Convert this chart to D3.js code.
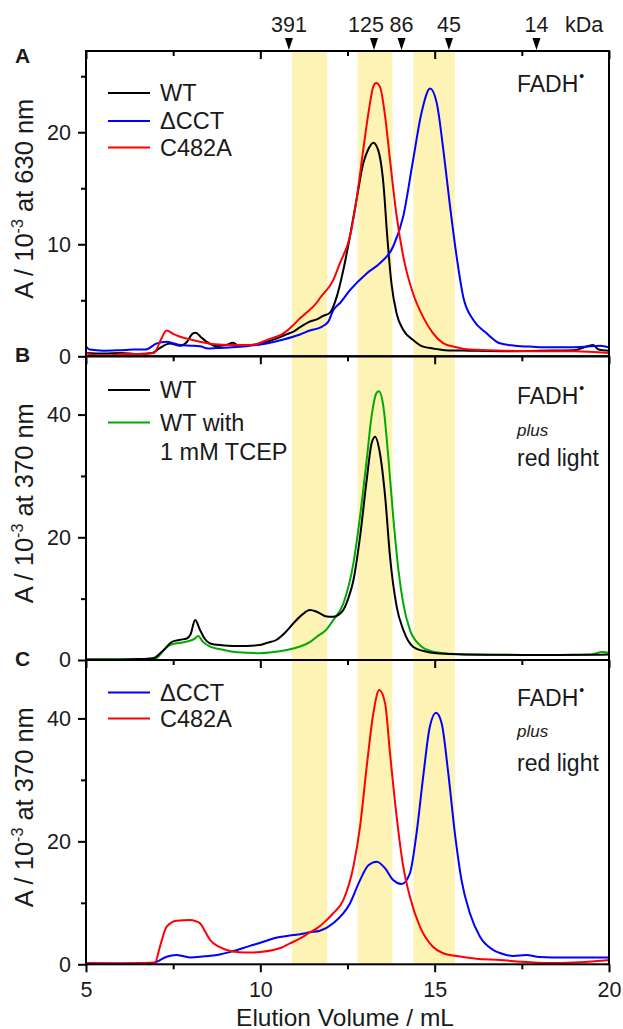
<!DOCTYPE html>
<html>
<head>
<meta charset="utf-8">
<script src="https://cdn.jsdelivr.net/npm/d3@7"></script>
<style>
  body { margin: 0; background: #fff; }
  svg text { font-family: "Liberation Sans", Arial, sans-serif; fill: #1a1a1a; }
</style>
</head>
<body>
<div id="chart"></div>
<script>
// elution volume (mL) / absorbance (x10^-3) pairs

// panel A, 630 nm
var aWT = [[5.0,0.3],[5.5,0.25],[6.0,0.3],[6.5,0.2],[6.9,0.3],[7.1,0.7],[7.4,1.15],[7.7,0.95],[7.9,1.3],[8.05,2.0],[8.15,2.1],[8.3,1.7],[8.46,1.3],[8.74,0.9],[9.0,1.0],[9.22,1.2],[9.4,0.9],[9.7,1.0],[9.99,1.1],[10.2,1.3],[10.48,1.6],[10.7,1.9],[10.95,2.2],[11.14,2.6],[11.42,3.1],[11.62,3.3],[11.8,3.6],[12.0,3.9],[12.19,5.3],[12.38,7.7],[12.57,10.7],[12.76,14.0],[12.95,17.2],[13.1,18.5],[13.24,19.07],[13.38,18.4],[13.53,15.4],[13.64,10.7],[13.76,6.5],[13.91,3.8],[14.1,2.35],[14.38,1.46],[14.67,0.86],[14.95,0.7],[15.3,0.55],[16.0,0.5],[17.0,0.45],[18.0,0.5],[19.0,0.55],[19.55,1.0],[19.7,0.6],[20.0,0.5]];
var aDCCT = [[5.0,0.9],[5.1,0.6],[5.5,0.5],[6.0,0.55],[6.35,0.6],[6.7,0.6],[7.03,1.15],[7.31,1.3],[7.7,1.0],[8.0,0.95],[8.27,0.9],[8.5,0.7],[8.74,0.75],[9.2,0.8],[9.6,0.9],[10.18,1.15],[10.66,1.5],[11.14,1.95],[11.42,2.3],[11.71,2.55],[11.95,3.1],[12.09,4.1],[12.3,4.8],[12.57,5.9],[13.05,7.4],[13.43,8.3],[13.81,9.8],[14.1,12.5],[14.38,17.5],[14.62,21.7],[14.87,23.9],[15.06,22.6],[15.25,18.4],[15.44,13.4],[15.63,8.9],[15.82,5.3],[16.11,3.24],[16.49,2.05],[16.87,1.16],[17.3,0.95],[17.83,0.85],[18.3,0.8],[18.79,0.8],[19.3,0.85],[19.75,0.95],[20.0,0.8]];
var aC482A = [[5.0,0.3],[5.3,0.1],[5.7,0.1],[6.0,0.2],[6.5,0.2],[6.95,0.3],[7.15,1.5],[7.31,2.3],[7.5,2.0],[7.7,1.75],[8.0,1.5],[8.27,1.3],[8.6,1.1],[9.22,1.0],[9.6,1.0],[9.9,1.1],[10.18,1.45],[10.66,2.05],[10.95,2.8],[11.14,3.4],[11.33,3.9],[11.62,4.8],[11.71,5.2],[12.09,6.8],[12.28,8.3],[12.57,10.7],[12.76,14.0],[12.95,18.4],[13.1,21.7],[13.24,24.07],[13.32,24.4],[13.43,24.07],[13.58,21.4],[13.72,17.5],[13.91,12.5],[14.1,8.9],[14.38,5.6],[14.67,3.5],[14.95,2.06],[15.24,1.17],[15.53,0.87],[16.0,0.6],[17.0,0.5],[18.0,0.45],[19.0,0.45],[20.0,0.3]];

// panel B, 370 nm
var bWT = [[5.0,0.1],[6.0,0.1],[6.5,0.15],[6.93,0.3],[7.22,1.6],[7.48,3.0],[7.7,3.3],[7.89,3.5],[8.0,4.2],[8.13,6.5],[8.27,4.9],[8.4,3.5],[8.56,2.7],[8.9,2.4],[9.22,2.3],[9.6,2.3],[9.99,2.45],[10.2,2.8],[10.47,3.3],[10.7,4.4],[10.95,6.0],[11.2,7.4],[11.42,8.15],[11.6,7.9],[11.71,7.6],[11.9,7.1],[12.09,7.06],[12.25,7.4],[12.38,8.15],[12.52,10.0],[12.67,13.0],[12.86,20.1],[13.05,29.3],[13.19,35.3],[13.29,36.4],[13.43,33.7],[13.58,26.6],[13.72,16.8],[13.91,8.7],[14.1,4.9],[14.38,2.17],[14.77,1.35],[15.3,1.0],[15.9,0.9],[17.0,0.85],[18.0,0.8],[19.0,0.85],[19.75,0.87],[20.0,0.9]];
var bTCEP = [[5.0,0.1],[6.0,0.1],[6.5,0.1],[7.0,0.27],[7.2,1.4],[7.41,2.45],[7.7,2.8],[7.89,3.0],[8.1,3.4],[8.22,3.9],[8.35,3.0],[8.56,2.17],[8.9,1.7],[9.22,1.35],[9.6,1.2],[9.99,1.1],[10.4,1.3],[10.76,1.63],[11.14,2.2],[11.42,2.9],[11.62,3.8],[11.9,5.0],[12.09,6.5],[12.38,9.2],[12.67,15.8],[12.86,23.4],[13.05,32.6],[13.19,39.7],[13.33,43.5],[13.4,43.8],[13.53,41.3],[13.67,33.1],[13.81,23.4],[13.96,14.7],[14.1,9.2],[14.29,4.9],[14.58,2.4],[14.95,1.35],[15.5,1.0],[15.91,0.9],[17.0,0.8],[18.79,0.8],[19.5,0.9],[19.8,1.3],[20.0,1.2]];

// panel C, 370 nm
var cDCCT = [[5.0,0.16],[6.0,0.15],[6.93,0.2],[7.1,0.6],[7.31,1.24],[7.6,1.5],[7.8,1.3],[7.99,1.1],[8.4,1.3],[8.75,1.5],[9.2,2.1],[9.7,3.0],[10.0,3.5],[10.37,4.2],[10.95,4.75],[11.14,4.9],[11.42,5.2],[11.71,5.46],[12.09,6.67],[12.57,9.9],[12.86,13.7],[13.1,16.1],[13.34,16.7],[13.58,15.6],[13.81,13.7],[14.05,13.06],[14.29,14.8],[14.48,21.3],[14.67,30.5],[14.86,38.6],[15.04,40.9],[15.2,39.2],[15.39,31.1],[15.58,21.3],[15.77,13.7],[16.01,8.3],[16.3,4.5],[16.68,2.33],[17.0,1.6],[17.25,1.35],[17.63,1.5],[18.0,1.2],[18.79,1.1],[19.5,1.1],[20.0,1.1]];
var cC482A = [[5.0,0.16],[6.0,0.15],[6.98,0.3],[7.12,2.86],[7.31,6.1],[7.6,7.1],[7.99,7.2],[8.15,7.0],[8.27,6.67],[8.4,5.5],[8.56,3.95],[8.8,2.9],[9.03,2.33],[9.4,1.95],[9.7,1.9],[10.0,2.0],[10.37,2.33],[10.6,2.7],[10.85,3.4],[11.14,4.2],[11.42,5.2],[11.62,5.85],[11.85,6.9],[12.09,8.3],[12.38,10.45],[12.67,15.9],[12.86,22.4],[13.05,32.1],[13.24,40.8],[13.41,44.6],[13.58,42.4],[13.72,34.3],[13.91,24.0],[14.1,15.9],[14.29,11.0],[14.58,6.1],[14.95,2.86],[15.24,1.8],[15.63,1.35],[16.2,0.9],[16.87,0.7],[17.5,0.4],[18.3,0.2],[19.0,0.3],[19.6,0.5],[20.0,0.7]];

// size markers on top (kDa) and highlighted volume ranges
var markerVolumes = [10.82, 13.26, 14.05, 15.41, 17.92];
var markerLabels = ["391", "125", "86", "45", "14"];
var bands = [[10.91, 11.92], [12.79, 13.79], [14.39, 15.58]];

var xMajor = [5, 10, 15, 20];
var xMinor = [7.5, 12.5, 17.5];

var W = 623, H = 1029;
var left = 86, right = 609;

var svg = d3.select("#chart").append("svg")
    .attr("width", W)
    .attr("height", H);

var x = d3.scaleLinear().domain([5, 20]).range([left, right]);

var panels = [
    { letter: "A", top: 51, bottom: 356.3, ymax: 27.25, major: [0, 10, 20], minor: [5, 15, 25], nm: "630",
      series: [{ d: aWT, c: "#000000" }, { d: aDCCT, c: "#0000ff" }, { d: aC482A, c: "#ff0000" }],
      legend: [{ y: 93, c: "#000000", t: ["WT"] }, { y: 121, c: "#0000ff", t: ["\u0394CCT"] }, { y: 147.5, c: "#ff0000", t: ["C482A"] }],
      note: [92] },
    { letter: "B", top: 356.3, bottom: 660, ymax: 49.5, major: [0, 20, 40], minor: [10, 30], nm: "370",
      series: [{ d: bTCEP, c: "#00aa00" }, { d: bWT, c: "#000000" }],
      legend: [{ y: 390, c: "#000000", t: ["WT"] }, { y: 422.5, c: "#00aa00", t: ["WT with", "1 mM TCEP"] }],
      note: [404, 436, 466] },
    { letter: "C", top: 660, bottom: 964.3, ymax: 49.5, major: [0, 20, 40], minor: [10, 30], nm: "370",
      series: [{ d: cDCCT, c: "#0000ff" }, { d: cC482A, c: "#ff0000" }],
      legend: [{ y: 692.5, c: "#0000ff", t: ["\u0394CCT"] }, { y: 718.5, c: "#ff0000", t: ["C482A"] }],
      note: [706, 737, 771] }
];

// yellow bands through all three panels
svg.append("g").selectAll("rect")
    .data(bands)
    .enter().append("rect")
    .attr("x", d => x(d[0]))
    .attr("width", d => x(d[1]) - x(d[0]))
    .attr("y", panels[0].top)
    .attr("height", panels[2].bottom - panels[0].top)
    .attr("fill", "#fdf3b5");

panels.forEach(function (p, i) {
    var y = d3.scaleLinear().domain([0, p.ymax]).range([p.bottom, p.top]);
    var g = svg.append("g");

    var line = d3.line()
        .x(d => x(d[0]))
        .y(d => y(d[1]))
        .curve(d3.curveMonotoneX);

    p.series.forEach(function (s) {
        g.append("path")
            .attr("d", line(s.d))
            .attr("fill", "none")
            .attr("stroke", s.c)
            .attr("stroke-width", 2)
            .attr("stroke-linejoin", "round");
    });

    // y axis
    g.append("g").attr("transform", "translate(" + left + ",0)")
        .call(d3.axisLeft(y).tickValues(p.major).tickSize(8).tickPadding(7).tickSizeOuter(0));
    g.append("g").attr("transform", "translate(" + left + ",0)")
        .call(d3.axisLeft(y).tickValues(p.minor).tickSize(5).tickFormat("").tickSizeOuter(0));

    // x ticks at bottom, pointing out
    g.append("g").attr("transform", "translate(0," + p.bottom + ")")
        .call(d3.axisBottom(x).tickValues(xMajor).tickSize(8).tickPadding(9).tickSizeOuter(0)
            .tickFormat(i === 2 ? d3.format("d") : ""));
    g.append("g").attr("transform", "translate(0," + p.bottom + ")")
        .call(d3.axisBottom(x).tickValues(xMinor).tickSize(5).tickFormat("").tickSizeOuter(0));

    if (i === 0) {
        // inward ticks on the very top
        g.append("g").attr("transform", "translate(0," + p.top + ")")
            .call(d3.axisBottom(x).tickValues(xMajor).tickSize(8).tickFormat("").tickSizeOuter(0));
        g.append("g").attr("transform", "translate(0," + p.top + ")")
            .call(d3.axisBottom(x).tickValues(xMinor).tickSize(5).tickFormat("").tickSizeOuter(0));
    }

    g.selectAll(".domain").remove();
    g.selectAll(".tick line").attr("stroke", "#000").attr("stroke-width", 2);
    g.selectAll(".tick text").attr("font-size", 21.5).attr("fill", "#1a1a1a")
        .style("font-family", "'Liberation Sans', Arial, sans-serif");

    // frame
    g.append("rect")
        .attr("x", left).attr("y", p.top)
        .attr("width", right - left).attr("height", p.bottom - p.top)
        .attr("fill", "none").attr("stroke", "#000").attr("stroke-width", 2);

    // panel letter
    g.append("text")
        .attr("x", 15).attr("y", i === 0 ? 63 : p.top + 6)
        .attr("font-size", 21).attr("font-weight", "bold")
        .text(p.letter);

    // y title
    var yt = g.append("text")
        .attr("transform", "translate(33," + ((p.top + p.bottom) / 2 - 5) + ") rotate(-90)")
        .attr("text-anchor", "middle")
        .attr("font-size", 25.5);
    yt.append("tspan").text("A / 10");
    yt.append("tspan").attr("font-size", 16).attr("dy", -10).text("-3");
    yt.append("tspan").attr("dy", 10).text(" at " + p.nm + " nm");

    // legend
    p.legend.forEach(function (l) {
        g.append("line")
            .attr("x1", 108).attr("x2", 150)
            .attr("y1", l.y).attr("y2", l.y)
            .attr("stroke", l.c).attr("stroke-width", 2);
        l.t.forEach(function (t, k) {
            g.append("text")
                .attr("x", 160).attr("y", l.y + 8 + k * 29)
                .attr("font-size", 23.5)
                .text(t);
        });
    });

    // FADH annotation
    var n = g.append("text").attr("x", 517).attr("y", p.note[0]).attr("font-size", 23);
    n.append("tspan").text("FADH");
    n.append("tspan").attr("font-size", 14).attr("dy", -11).attr("dx", 1).text("\u2022");
    if (p.note.length > 1) {
        g.append("text").attr("x", 517).attr("y", p.note[1])
            .attr("font-size", 17).attr("font-style", "italic").text("plus");
        g.append("text").attr("x", 517).attr("y", p.note[2])
            .attr("font-size", 23).text("red light");
    }
});

// kDa markers
var mk = svg.append("g");
mk.selectAll("path")
    .data(markerVolumes)
    .enter().append("path")
    .attr("d", d => "M" + (x(d) - 4) + ",38L" + (x(d) + 4) + ",38L" + x(d) + ",50Z")
    .attr("fill", "#000");
mk.selectAll("text")
    .data(markerLabels)
    .enter().append("text")
    .attr("x", (d, i) => x(markerVolumes[i]) + (d === "125" ? -8 : 0))
    .attr("y", 32)
    .attr("text-anchor", "middle")
    .attr("font-size", 21.5)
    .text(d => d);
mk.append("text")
    .attr("x", 565).attr("y", 32)
    .attr("font-size", 21.5)
    .text("kDa");

// x title
svg.append("text")
    .attr("x", 345).attr("y", 1025.5)
    .attr("text-anchor", "middle")
    .attr("font-size", 24.5)
    .text("Elution Volume / mL");
</script>
</body>
</html>
